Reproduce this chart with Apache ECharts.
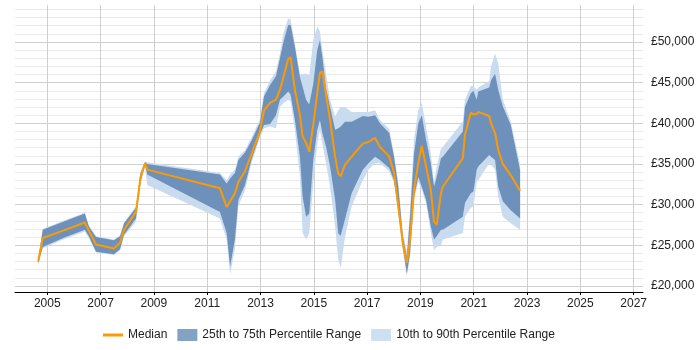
<!DOCTYPE html>
<html>
<head>
<meta charset="utf-8">
<script src="https://cdn.jsdelivr.net/npm/echarts@6/dist/echarts.min.js"></script>
<style>
html, body { margin: 0; padding: 0; background: #fff; }
#main { width: 700px; height: 350px; }
</style>
</head>
<body>
<div id="main"></div>
<script>
//////////// salary percentiles over time //////////////////
var years = [2004.66, 2004.83, 2005.60, 2006.41, 2006.56, 2006.83, 2007.50, 2007.73, 2007.88, 2008.33,
    2008.50, 2008.67, 2008.75, 2011.48, 2011.73, 2011.86, 2012.04, 2012.17, 2012.42, 2012.67,
    2012.98, 2013.13, 2013.36, 2013.58, 2013.73, 2013.86, 2014.04, 2014.13, 2014.29, 2014.48,
    2014.58, 2014.71, 2014.83, 2014.98, 2015.13, 2015.23, 2015.32, 2015.46, 2015.61, 2015.80,
    2015.92, 2016.01, 2016.17, 2016.42, 2016.84, 2017.05, 2017.30, 2017.48, 2017.83, 2018.01,
    2018.17, 2018.34, 2018.49, 2018.61, 2018.76, 2018.92, 2019.05, 2019.21, 2019.39, 2019.51,
    2019.61, 2019.77, 2019.84, 2020.59, 2020.67, 2020.89, 2020.99, 2021.11, 2021.17, 2021.58,
    2021.65, 2021.80, 2021.92, 2022.09, 2022.39, 2022.74];
var p10 = [22600, 24600, 25700, 26700, 25900, 24100, 23800, 24400, 26100, 27900,
    32600, 34700, 32400, 28300, 25700, 21400, 24600, 29800, 31800, 35200,
    38200, 39400, 39600, 39400, 42000, 42500, 42900, 42700, 39200, 33400,
    26500, 25700, 26500, 32600, 37500, 39200, 37500, 35100, 32200, 27300,
    23200, 22200, 26000, 29800, 33000, 34300, 35100, 35100, 34100, 32600,
    28900, 24400, 21200, 23600, 30600, 32800, 31800, 30200, 26500, 24400,
    24800, 25000, 25700, 26500, 28500, 29600, 29800, 32800, 33000, 35100,
    34900, 34300, 31000, 28500, 27700, 26900];
var p25 = [22800, 24800, 25900, 26900, 26100, 24200, 23900, 24500, 26300, 28300,
    32800, 34900, 33700, 29100, 26500, 22400, 25700, 30600, 32400, 35600,
    38600, 39800, 39900, 41000, 42900, 43300, 43900, 43500, 40400, 35900,
    31000, 28500, 28900, 35500, 39200, 40400, 38800, 37100, 34700, 30600,
    26400, 26200, 28200, 31400, 34300, 35100, 35900, 35500, 34500, 33000,
    29300, 24800, 21500, 24000, 31000, 33400, 32200, 30600, 27300, 25700,
    26100, 26900, 26900, 28500, 30200, 31400, 31600, 34300, 34700, 36100,
    35900, 35500, 32200, 30400, 29300, 28300];
var median = [23000, 25900, 26800, 27800, 26800, 25100, 24600, 25300, 26900, 29100,
    33400, 35100, 34300, 32000, 29700, 30400, 31400, 32800, 34100, 36300,
    39000, 41600, 42500, 42900, 44100, 45700, 47900, 48100, 44100, 41000,
    38400, 37600, 36500, 39800, 43700, 46200, 46400, 43500, 40400, 35900,
    33800, 33500, 34900, 35900, 37500, 37700, 38200, 37100, 35900, 33900,
    29800, 25200, 22800, 25700, 31800, 35100, 37200, 34700, 31800, 27900,
    27500, 31400, 32200, 35700, 38600, 41300, 41100, 41100, 41400, 40900,
    40000, 38800, 36700, 35000, 33600, 31700];
var p75 = [23200, 26900, 27900, 28900, 27300, 26000, 25600, 26100, 27700, 29600,
    33900, 35200, 35000, 33700, 32600, 33200, 33900, 35500, 36400, 37900,
    40100, 43300, 44700, 45800, 48000, 50000, 52100, 52100, 49400, 45700,
    44500, 42900, 42300, 44900, 49000, 50200, 48200, 44300, 42000, 39200,
    39400, 39600, 40200, 40200, 40900, 40800, 41000, 40000, 38800, 35900,
    32200, 26100, 23600, 28500, 36300, 40000, 41000, 38000, 35100, 32200,
    33400, 35700, 35900, 39000, 42000, 43700, 44000, 42900, 43900, 44400,
    45300, 46100, 44100, 42100, 39800, 34200];
var p90 = [23400, 27000, 28000, 29000, 27500, 26100, 25700, 26200, 27800, 29800,
    34000, 35300, 35200, 33900, 33000, 33700, 34300, 35900, 36700, 38300,
    40500, 43700, 45300, 46400, 48600, 51100, 52900, 52800, 49800, 45900,
    46100, 46100, 45900, 50200, 51900, 51300, 49000, 46100, 42900, 40800,
    41600, 42000, 42000, 41400, 41400, 41400, 41600, 40400, 39300, 36300,
    32600, 26500, 24200, 29300, 38000, 41600, 42500, 39600, 36300, 32800,
    34700, 36900, 37100, 40200, 42900, 44600, 44600, 44100, 44400, 45200,
    47000, 48600, 47400, 42900, 40200, 34900];

var xTicks = [2005, 2007, 2009, 2011, 2013, 2015, 2017, 2019, 2021, 2023, 2025, 2027];
var yLabels = [20000, 25000, 30000, 35000, 40000, 45000, 50000];
var yLines = [20000, 21000, 22000, 23000, 24000, 25000, 26000, 27000, 28000, 29000,
    30000, 31000, 32000, 33000, 34000, 35000, 36000, 37000, 38000, 39000,
    40000, 41000, 42000, 43000, 44000, 45000, 46000, 47000, 48000, 49000,
    50000, 51000, 52000, 53000, 54000];

function pairs(arr) {
    return years.map(function (y, i) { return [y, arr[i]]; });
}
function bandData(hi, lo) {
    return years.map(function (y, i) { return [y, hi[i], lo[i]]; });
}
// one polygon per band: upper edge left->right, lower edge back
function bandItem(hi, lo, fill) {
    return function (params, api) {
        if (params.dataIndex !== 0) return null;
        var pts = [];
        for (var i = 0; i < years.length; i++) pts.push(api.coord([years[i], hi[i]]));
        for (var j = years.length - 1; j >= 0; j--) pts.push(api.coord([years[j], lo[j]]));
        return {type: 'polygon', shape: {points: pts}, style: {fill: fill}, silent: true};
    };
}
function pounds(v) {
    return '£' + String(v).replace(/\B(?=(\d{3})+(?!\d))/g, ',');
}

var chart_dom = document.getElementById('main');
var chart = echarts.init(chart_dom);
var font = 'Liberation Sans, Arial, sans-serif';
var option = {
    animation: false,
    backgroundColor: '#FFFFFF',
    grid: {left: 15, right: 57, top: 5, bottom: 58},
    legend: {
        left: 103,
        bottom: 9,
        padding: 0,
        itemWidth: 20,
        itemHeight: 12,
        itemGap: 10,
        textStyle: {fontFamily: font, fontSize: 12, color: '#222'},
        data: [
            {name: 'Median', icon: 'path://M0,0L20,0L20,3L0,3Z'},
            {name: '25th to 75th Percentile Range', icon: 'rect'},
            {name: '10th to 90th Percentile Range', icon: 'rect'}
        ]
    },
    xAxis: {
        type: 'value',
        min: 2003.79,
        max: 2027.35,
        axisLine: {lineStyle: {color: '#000', width: 1}},
        axisTick: {customValues: xTicks, length: 3, lineStyle: {color: '#000'}},
        axisLabel: {
            customValues: xTicks,
            margin: 6,
            fontFamily: font,
            fontSize: 12,
            color: '#222',
            formatter: function (v) { return String(v); }
        },
        splitLine: {show: true, lineStyle: {color: '#cfcfcf'}}
    },
    yAxis: {
        type: 'value',
        position: 'right',
        min: 19250,
        max: 54550,
        axisLine: {show: false},
        axisTick: {show: false, customValues: yLines},
        axisLabel: {
            customValues: yLabels,
            margin: 8,
            fontFamily: font,
            fontSize: 12,
            color: '#222',
            formatter: pounds
        },
        splitLine: {
            lineStyle: {color: ['#d0d0d0', '#e9e9e9', '#e9e9e9', '#e9e9e9', '#e9e9e9']}
        }
    },
    series: [
        {
            name: '10th to 90th Percentile Range',
            type: 'custom',
            data: bandData(p90, p10),
            encode: {x: 0, y: [1, 2]},
            renderItem: bandItem(p90, p10, '#c9dbee'),
            itemStyle: {color: '#cddff1'}
        },
        {
            name: '25th to 75th Percentile Range',
            type: 'custom',
            data: bandData(p75, p25),
            encode: {x: 0, y: [1, 2]},
            renderItem: bandItem(p75, p25, '#6d91bb'),
            itemStyle: {color: '#84a2c6'}
        },
        {
            name: 'Median',
            type: 'line',
            data: pairs(median),
            symbol: 'none',
            color: '#ff9900',
            lineStyle: {width: 2, color: '#ff9900'}
        }
    ]
};
chart.setOption(option);
</script>
</body>
</html>
